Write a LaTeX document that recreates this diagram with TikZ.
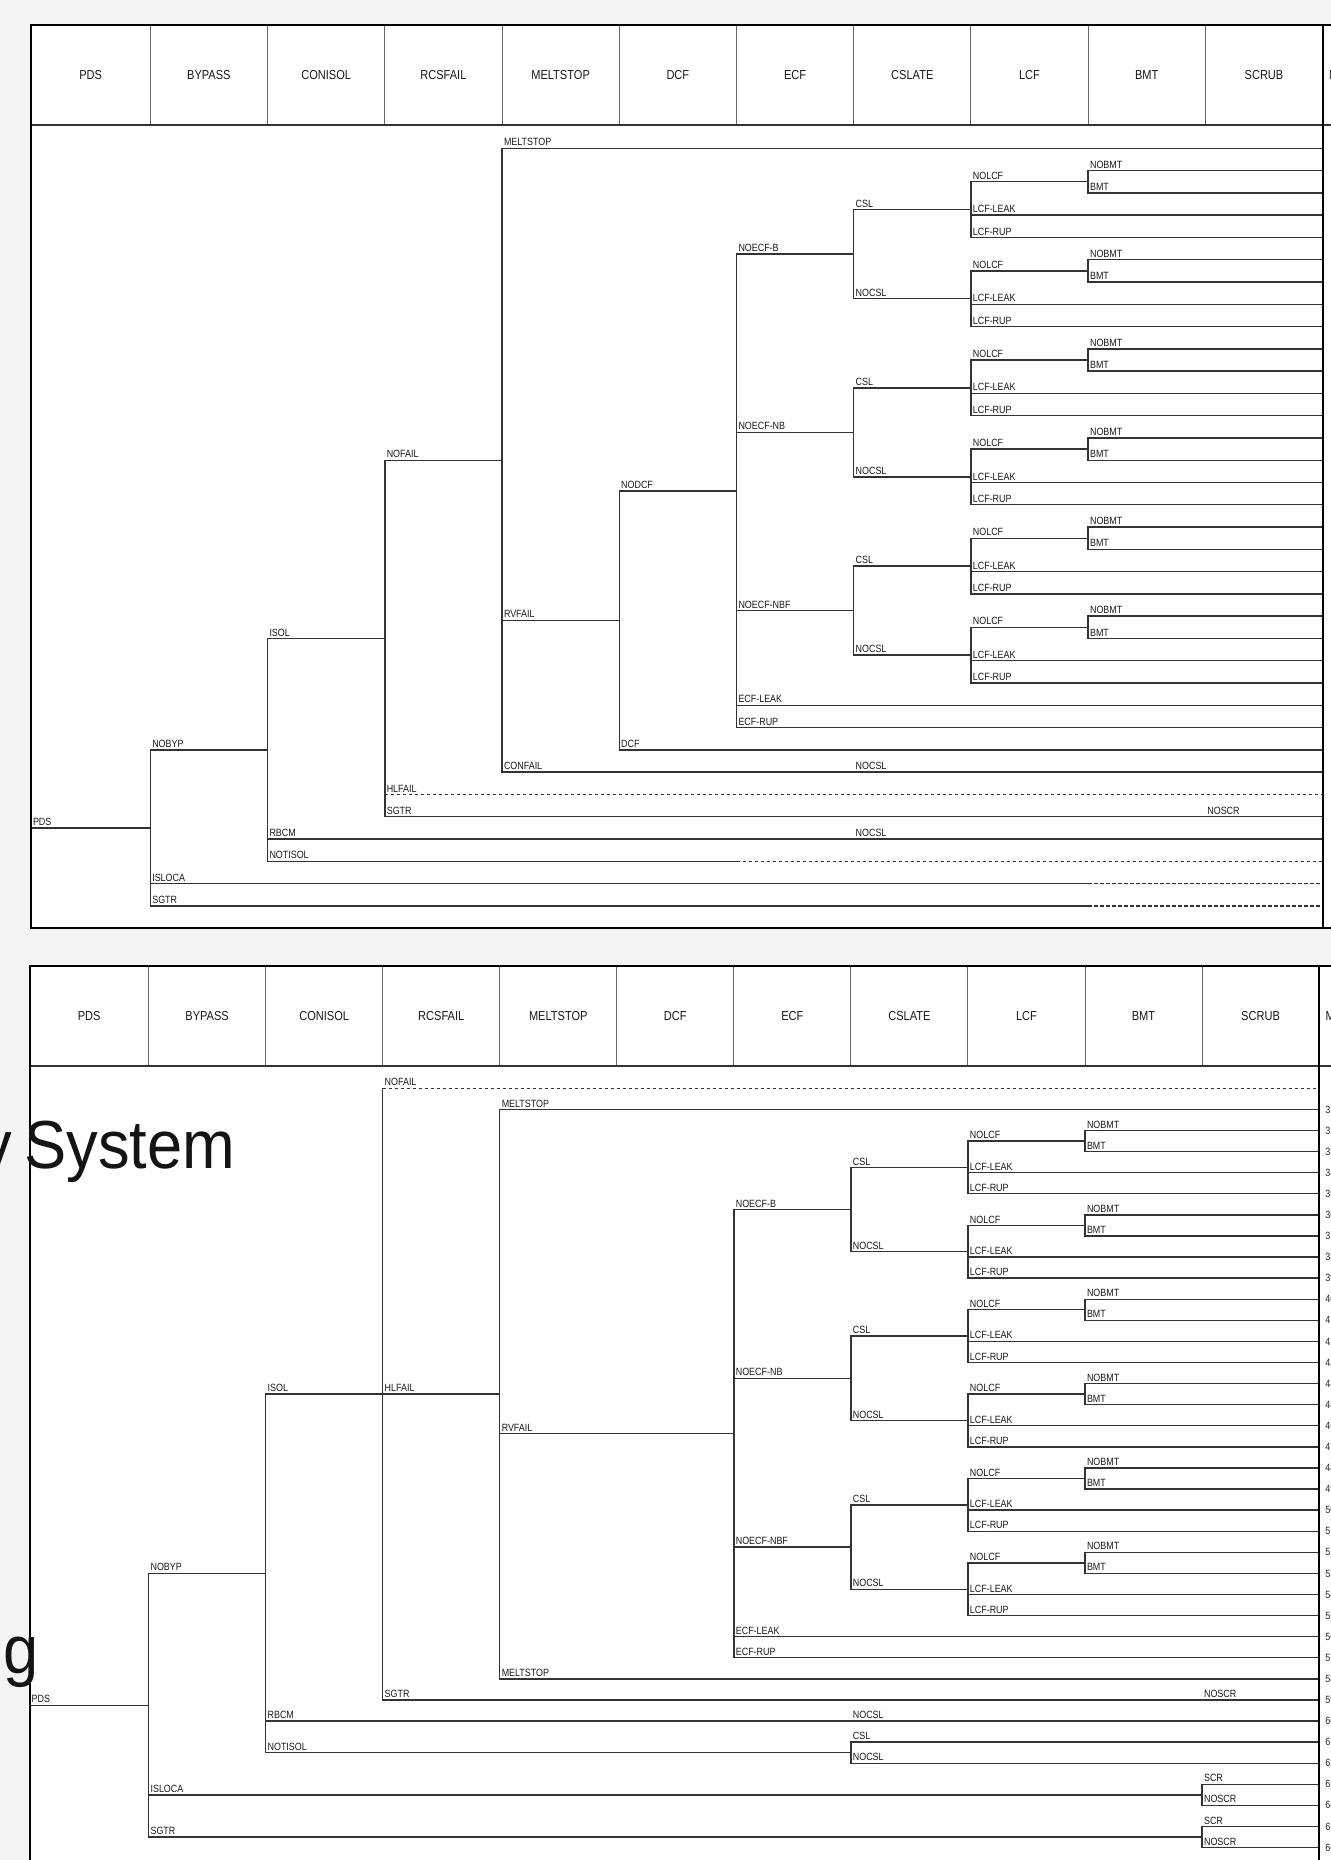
\documentclass[tikz,border=0pt]{standalone}
\usepackage{fontspec}
\newfontfamily\lblfont{Liberation Sans}[FakeStretch=0.85]
\newfontfamily\slidefont{Liberation Sans}[FakeStretch=0.93]
\definecolor{bgc}{HTML}{F3F4F6}
\definecolor{lnc}{HTML}{333333}
\tikzset{
 tline/.style={draw=lnc, line width=0.7pt, line cap=rect},
 dline/.style={draw=lnc, line width=0.7pt, dash pattern=on 1.75pt off 1.25pt},
 lbl/.style={anchor=base west, inner sep=0pt, xshift=0.8pt, yshift=1.2pt, text=black!90, font=\lblfont\fontsize{5.25pt}{6pt}\selectfont},
 hdr/.style={inner sep=0pt, text=black!90, font=\lblfont\fontsize{6.5pt}{7pt}\selectfont},
 seqn/.style={anchor=west, inner sep=0pt, text=black!85, font=\lblfont\fontsize{5.25pt}{6pt}\selectfont},
 frame/.style={draw=black, line width=1.1pt},
 colsep/.style={draw=black!60, line width=0.5pt},
 bigtxt/.style={inner sep=0pt, text=black!92, font=\slidefont\fontsize{34pt}{40pt}\selectfont}
}
\newcommand{\rowy}[1]{\yz+(#1)*\rsp}
\newcommand{\hseg}[4]{\draw[tline] (#1,{#3}) -- (#2,{#3}); \node[lbl] at (#1,{#3}) {#4};}
\newcommand{\hdash}[4]{\draw[dline] (#1,{#3}) -- (#2,{#3}); \node[lbl] at (#1,{#3}) {#4};}
\newcommand{\hsegd}[5]{\draw[tline] (#1,{#4}) -- (#2,{#4}); \draw[dline] (#2,{#4}) -- (#3,{#4}); \node[lbl] at (#1,{#4}) {#5};}
\newcommand{\vseg}[3]{\draw[tline] (#1,{#2}) -- (#1,{#3});}
\newcommand{\tlab}[3]{\node[lbl] at (#1,{#2}) {#3};}
\newcommand{\bmtgrp}[1]{%
  \hseg{\XI}{\XJ}{\rowy{#1+0.5}}{NOLCF}
  \vseg{\XJ}{\rowy{#1}}{\rowy{#1+1}}
  \hseg{\XJ}{\XL}{\rowy{#1}}{NOBMT}
  \hseg{\XJ}{\XL}{\rowy{#1+1}}{BMT}
  \hseg{\XI}{\XL}{\rowy{#1+2}}{LCF-LEAK}
  \hseg{\XI}{\XL}{\rowy{#1+3}}{LCF-RUP}
  \vseg{\XI}{\rowy{#1+0.5}}{\rowy{#1+3}}}
\newcommand{\ecfgrp}[2]{%
  \hseg{\XG}{\XH}{\rowy{#1+3.75}}{#2}
  \vseg{\XH}{\rowy{#1+1.75}}{\rowy{#1+5.75}}
  \hseg{\XH}{\XI}{\rowy{#1+1.75}}{CSL}
  \hseg{\XH}{\XI}{\rowy{#1+5.75}}{NOCSL}
  \bmtgrp{#1}
  \bmtgrp{#1+4}}
\newcommand{\hcell}[4]{\node[hdr] at ({(#1+#2)/2},{#3}) {#4};}
\newcommand{\headerrow}[2]{%
  \foreach \xx in {\XB,\XC,\XD,\XE,\XF,\XG,\XH,\XI,\XJ,\XK}{\draw[colsep] (\xx,#1) -- (\xx,#2);}
  \draw[draw=black!80, line width=1pt] (\XA,#2) -- (1400,#2);
  \hcell{\XA}{\XB}{(#1+#2)/2}{PDS}
  \hcell{\XB}{\XC}{(#1+#2)/2}{BYPASS}
  \hcell{\XC}{\XD}{(#1+#2)/2}{CONISOL}
  \hcell{\XD}{\XE}{(#1+#2)/2}{RCSFAIL}
  \hcell{\XE}{\XF}{(#1+#2)/2}{MELTSTOP}
  \hcell{\XF}{\XG}{(#1+#2)/2}{DCF}
  \hcell{\XG}{\XH}{(#1+#2)/2}{ECF}
  \hcell{\XH}{\XI}{(#1+#2)/2}{CSLATE}
  \hcell{\XI}{\XJ}{(#1+#2)/2}{LCF}
  \hcell{\XJ}{\XK}{(#1+#2)/2}{BMT}
  \hcell{\XK}{\XL}{(#1+#2)/2}{SCRUB}
  \node[hdr, anchor=west] at (\XL+6,{(#1+#2)/2}) {M};}
\begin{document}
\begin{tikzpicture}[x=0.5pt,y=-0.5pt]
\useasboundingbox (0,0) rectangle (1331,1860);
\clip (0,0) rectangle (1331,1860);
\fill[bgc] (0,0) rectangle (1331,1860);

% ================= upper tree =================
\def\XA{31}\def\XB{150.3}\def\XC{267.5}\def\XD{384.8}\def\XE{502}\def\XF{619.2}
\def\XG{736.5}\def\XH{853.7}\def\XI{970.9}\def\XJ{1088.1}\def\XK{1205.4}\def\XL{1322.6}
\def\yz{148.3}\def\rsp{22.28}
\fill[white] (\XA,25) rectangle (1400,927.7);
\headerrow{25}{125}
\hseg{\XA}{\XB}{\rowy{30.5}}{PDS}
\vseg{\XB}{\rowy{27}}{\rowy{34}}
\hseg{\XB}{\XC}{\rowy{27}}{NOBYP}
\hsegd{\XB}{\XJ}{\XL}{\rowy{33}}{ISLOCA}
\hsegd{\XB}{\XJ}{\XL}{\rowy{34}}{SGTR}
\vseg{\XC}{\rowy{22}}{\rowy{32}}
\hseg{\XC}{\XD}{\rowy{22}}{ISOL}
\hseg{\XC}{\XL}{\rowy{31}}{RBCM} \tlab{\XH}{\rowy{31}}{NOCSL}
\hsegd{\XC}{\XG}{\XL}{\rowy{32}}{NOTISOL}
\vseg{\XD}{\rowy{14}}{\rowy{30}}
\hseg{\XD}{\XE}{\rowy{14}}{NOFAIL}
\hdash{\XD}{\XL}{\rowy{29}}{HLFAIL}
\hseg{\XD}{\XL}{\rowy{30}}{SGTR} \tlab{\XK}{\rowy{30}}{NOSCR}
\vseg{\XE}{\rowy{0}}{\rowy{28}}
\hseg{\XE}{\XL}{\rowy{0}}{MELTSTOP}
\hseg{\XE}{\XF}{\rowy{21.1875}}{RVFAIL}
\hseg{\XE}{\XL}{\rowy{28}}{CONFAIL} \tlab{\XH}{\rowy{28}}{NOCSL}
\vseg{\XF}{\rowy{15.375}}{\rowy{27}}
\hseg{\XF}{\XG}{\rowy{15.375}}{NODCF}
\hseg{\XF}{\XL}{\rowy{27}}{DCF}
\vseg{\XG}{\rowy{4.75}}{\rowy{26}}
\ecfgrp{1}{NOECF-B}
\ecfgrp{9}{NOECF-NB}
\ecfgrp{17}{NOECF-NBF}
\hseg{\XG}{\XL}{\rowy{25}}{ECF-LEAK}
\hseg{\XG}{\XL}{\rowy{26}}{ECF-RUP}
\draw[frame] (1400,25) -- (\XA,25) -- (\XA,927.7) -- (1400,927.7);
\draw[frame] (\XL,25) -- (\XL,927.7);

% ================= lower tree =================
\def\XA{29.7}\def\XB{148.6}\def\XC{265.65}\def\XD{382.7}\def\XE{499.75}\def\XF{616.8}
\def\XG{733.85}\def\XH{850.9}\def\XI{967.95}\def\XJ{1085}\def\XK{1202.05}\def\XL{1319.1}
\def\yz{1088.3}\def\rsp{21.09}
\fill[white] (\XA,966) rectangle (1400,1900);
\headerrow{966}{1066}
\hseg{\XA}{\XB}{\rowy{29.25}}{PDS}
\vseg{\XB}{\rowy{23}}{\rowy{35.5}}
\hseg{\XB}{\XC}{\rowy{23}}{NOBYP}
\hseg{\XB}{\XK}{\rowy{33.5}}{ISLOCA}
\vseg{\XK}{\rowy{33}}{\rowy{34}}
\hseg{\XK}{\XL}{\rowy{33}}{SCR}
\hseg{\XK}{\XL}{\rowy{34}}{NOSCR}
\hseg{\XB}{\XK}{\rowy{35.5}}{SGTR}
\vseg{\XK}{\rowy{35}}{\rowy{36}}
\hseg{\XK}{\XL}{\rowy{35}}{SCR}
\hseg{\XK}{\XL}{\rowy{36}}{NOSCR}
\vseg{\XC}{\rowy{14.5}}{\rowy{31.5}}
\hseg{\XC}{\XD}{\rowy{14.5}}{ISOL}
\hseg{\XC}{\XL}{\rowy{30}}{RBCM} \tlab{\XH}{\rowy{30}}{NOCSL}
\hseg{\XC}{\XH}{\rowy{31.5}}{NOTISOL}
\vseg{\XH}{\rowy{31}}{\rowy{32}}
\hseg{\XH}{\XL}{\rowy{31}}{CSL}
\hseg{\XH}{\XL}{\rowy{32}}{NOCSL}
\vseg{\XD}{\rowy{0}}{\rowy{29}}
\hdash{\XD}{\XL}{\rowy{0}}{NOFAIL}
\hseg{\XD}{\XE}{\rowy{14.5}}{HLFAIL}
\hseg{\XD}{\XL}{\rowy{29}}{SGTR} \tlab{\XK}{\rowy{29}}{NOSCR}
\vseg{\XE}{\rowy{1}}{\rowy{28}}
\hseg{\XE}{\XL}{\rowy{1}}{MELTSTOP}
\hseg{\XE}{\XG}{\rowy{16.375}}{RVFAIL}
\hseg{\XE}{\XL}{\rowy{28}}{MELTSTOP}
\vseg{\XG}{\rowy{5.75}}{\rowy{27}}
\ecfgrp{2}{NOECF-B}
\ecfgrp{10}{NOECF-NB}
\ecfgrp{18}{NOECF-NBF}
\hseg{\XG}{\XL}{\rowy{26}}{ECF-LEAK}
\hseg{\XG}{\XL}{\rowy{27}}{ECF-RUP}
\foreach \i in {1,...,36}{\pgfmathtruncatemacro{\sn}{30+\i}\node[seqn] at (1325,{\rowy{\i}}) {\sn};}
\draw[frame] (1400,966) -- (\XA,966) -- (\XA,1900);
\draw[frame] (\XL,966) -- (\XL,1900);

% ================= slide text behind =================
\node[bigtxt, anchor=base east] (ty) at (13,1168) {y};
\node[bigtxt, anchor=base west] (tsys) at (24,1168) {System};
\node[bigtxt, anchor=base west] (tg) at (3,1673) {g};
\end{tikzpicture}
\end{document}
